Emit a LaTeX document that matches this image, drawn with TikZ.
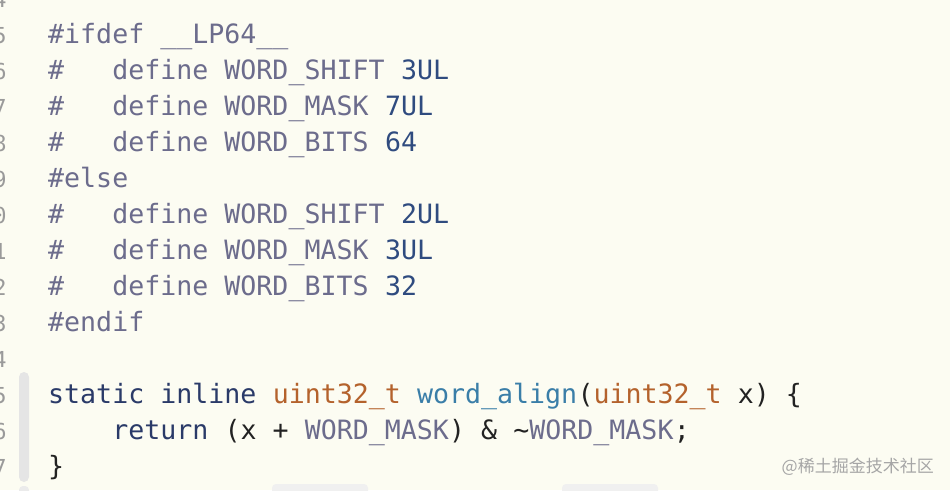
\documentclass[tikz,border=0pt]{standalone}
\usepackage{fontspec}
\newfontfamily\codefont{DejaVu Sans Mono}[Scale=1]
\newfontfamily\cjkf{Noto Sans CJK SC}
\definecolor{bg}{HTML}{FCFCF2}
\definecolor{pp}{HTML}{6C6C8C}
\definecolor{num}{HTML}{2F4B7F}
\definecolor{kw}{HTML}{2A3A68}
\definecolor{ty}{HTML}{B4622C}
\definecolor{fn}{HTML}{3A7EA8}
\definecolor{tx}{HTML}{222222}
\definecolor{lno}{HTML}{9A9A9A}
\tikzset{x=1pt,y=-1pt,
 code/.style={anchor=base west,inner sep=0pt,font=\codefont\fontsize{26.6}{30}\selectfont},
 lnum/.style={anchor=base,inner sep=0pt,text=lno,font=\codefont\fontsize{22}{26}\selectfont}}
\newcommand\cw{16.04}
\newcommand\U{\string_}
\begin{document}
\begin{tikzpicture}
\useasboundingbox (0,0) rectangle (950,490);
\fill[bg] (0,0) rectangle (950,490);
\begin{scope}
\clip (0,0) rectangle (950,490);
\foreach \n [count=\i from -1] in {4,5,6,7,8,9,0,1,2,3,4,5,6,7} {
  \node[lnum] (ln\i) at (0,{43+36*\i}) {\n};
}
\fill[black!10,rounded corners=5pt] (19,372) rectangle (29,482);
\fill[black!8,rounded corners=4pt] (19,486) rectangle (29,500);
\fill[black!6,rounded corners=4pt] (272,484) rectangle (368,500);
\fill[black!6,rounded corners=4pt] (562,484) rectangle (658,500);
\end{scope}
\newcommand\T[5]{\node[code,text=#3] (#5) at ({48+\cw*#1},{43+36*#2}) {#4};}
\T{0}{0}{pp}{\#ifdef \U\U LP64\U\U}{a1}
\T{0}{1}{pp}{\#}{a2} \T{4}{1}{pp}{define WORD\U SHIFT}{b2} \T{22}{1}{num}{3UL}{c2}
\T{0}{2}{pp}{\#}{a3} \T{4}{2}{pp}{define WORD\U MASK}{b3} \T{21}{2}{num}{7UL}{c3}
\T{0}{3}{pp}{\#}{a4} \T{4}{3}{pp}{define WORD\U BITS}{b4} \T{21}{3}{num}{64}{c4}
\T{0}{4}{pp}{\#else}{a5}
\T{0}{5}{pp}{\#}{a6} \T{4}{5}{pp}{define WORD\U SHIFT}{b6} \T{22}{5}{num}{2UL}{c6}
\T{0}{6}{pp}{\#}{a7} \T{4}{6}{pp}{define WORD\U MASK}{b7} \T{21}{6}{num}{3UL}{c7}
\T{0}{7}{pp}{\#}{a8} \T{4}{7}{pp}{define WORD\U BITS}{b8} \T{21}{7}{num}{32}{c8}
\T{0}{8}{pp}{\#endif}{a9}
\T{0}{10}{kw}{static inline}{a11} \T{14}{10}{ty}{uint32\U t}{b11} \T{23}{10}{fn}{word\U align}{c11}
\T{33}{10}{tx}{(}{d11} \T{34}{10}{ty}{uint32\U t}{e11} \T{43}{10}{tx}{x) \{}{f11}
\T{4}{11}{kw}{return}{a12} \T{11}{11}{tx}{(x +}{b12} \T{16}{11}{pp}{WORD\U MASK}{c12}
\T{25}{11}{tx}{) \& \string~}{d12} \T{30}{11}{pp}{WORD\U MASK}{e12} \T{39}{11}{tx};{f12}
\T{0}{12}{tx}{\}}{a13}
\node[anchor=base east,inner sep=0pt,text=black!35,font=\cjkf\fontsize{17}{20}\selectfont] (wm) at (934,472) {@稀土掘金技术社区};
\end{tikzpicture}
\end{document}
